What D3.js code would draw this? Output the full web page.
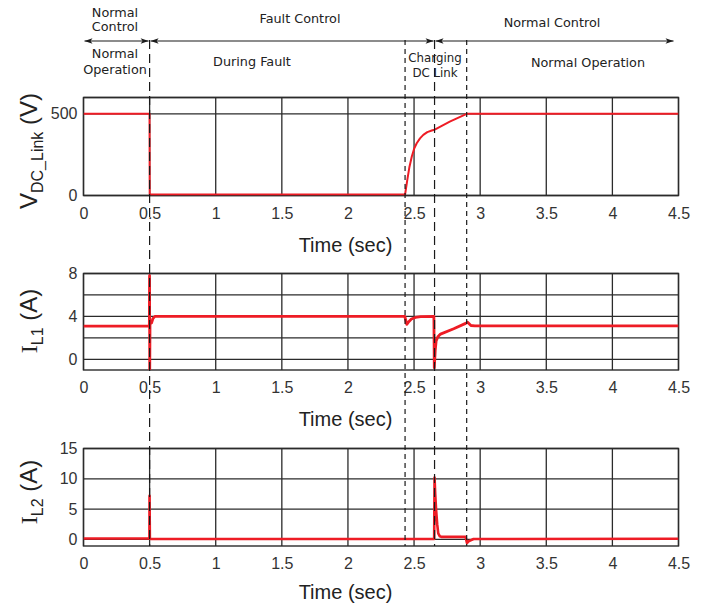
<!DOCTYPE html>
<html>
<head>
<meta charset="utf-8">
<script src="https://cdn.jsdelivr.net/npm/d3@7"></script>
<style>
  body { margin: 0; background: #fff; }
  svg { display: block; }
  .grid line { stroke: #2b2b2b; stroke-width: 1.3; }
  .tick text { font-family: "Liberation Sans", Arial, sans-serif; font-size: 16px; fill: #333; }
  .note { font-family: "DejaVu Sans", Verdana, sans-serif; fill: #222; }
</style>
</head>
<body>
<svg id="chart" width="708" height="605"></svg>
<script>
// time axis
var timeTicks = [0, 0.5, 1, 1.5, 2, 2.5, 3, 3.5, 4, 4.5];
var timeLabels = ["0", "0.5", "1", "1.5", "2", "2.5", "3", "3.5", "4", "4.5"];

// event instants (dashed lines)
var eventTimes = [0.5, 2.432, 2.655, 2.898];

// V_DC_Link (V)
var vdcT = [0, 0.4995, 0.501, 2.432, 2.449, 2.465, 2.483, 2.50, 2.52, 2.545, 2.57, 2.60, 2.634, 2.654, 2.66, 2.77, 2.898, 4.5];
var vdcV = [500, 500, 6, 6, 96, 175, 239, 285, 320, 350, 371, 388, 398, 403, 405, 452, 500, 500];

// I_L1 (A)
var il1T = [0, 0.498, 0.4995, 0.501, 0.503, 0.515, 0.525, 0.54, 2.43, 2.445, 2.46, 2.48, 2.51, 2.55, 2.65, 2.653, 2.66, 2.667, 2.68, 2.70, 2.80, 2.89, 2.905, 2.93, 2.96, 4.5];
var il1V = [3.1, 3.1, 7.8, -1, 3.3, 3.4, 3.8, 4.0, 4.0, 3.25, 3.5, 3.75, 3.9, 3.98, 4.0, -0.8, 0.8, 1.7, 2.1, 2.35, 2.85, 3.35, 3.45, 3.15, 3.12, 3.12];

// I_L2 (A)
var il2T = [0, 0.4985, 0.4995, 0.502, 0.51, 2.652, 2.655, 2.66, 2.667, 2.675, 2.683, 2.695, 2.71, 2.89, 2.9, 2.915, 2.95, 4.5];
var il2V = [0.15, 0.15, 7.2, 0.1, 0.05, 0.05, 10.2, 7.5, 4.8, 2.5, 1.0, 0.5, 0.4, 0.4, -0.6, -0.3, 0.05, 0.1];

var svg = d3.select("#chart");

var x = d3.scaleLinear().domain([0, 4.5]).range([83.5, 678.5]);

var panels = [
  { top: 97.5, bottom: 195.5, domain: [0, 600], grid: [0, 500, 600], ticks: [0, 500],
    t: vdcT, v: vdcV, width: 2, labelY: 151, main: "V", sub: "DC_Link", unit: " (V)", serif: false, timeDy: 56 },
  { top: 273.5, bottom: 370, domain: [-1, 8], grid: [0, 2, 4, 6, 8], ticks: [0, 4, 8],
    t: il1T, v: il1V, width: 2.8, labelY: 321, main: "I", sub: "L1", unit: " (A)", serif: true, timeDy: 56 },
  { top: 448.5, bottom: 546, domain: [-1.1, 15], grid: [0, 5, 10, 15], ticks: [0, 5, 10, 15],
    t: il2T, v: il2V, width: 2.6, labelY: 492, main: "I", sub: "L2", unit: " (A)", serif: true, timeDy: 53 }
];

panels.forEach(function (p, i) {
  var y = d3.scaleLinear().domain(p.domain).range([p.bottom, p.top]);
  var g = svg.append("g").attr("class", "panel");

  g.append("clipPath").attr("id", "clip" + i)
    .append("rect")
      .attr("x", x.range()[0]).attr("y", p.top)
      .attr("width", x.range()[1] - x.range()[0])
      .attr("height", p.bottom - p.top);

  var grid = g.append("g").attr("class", "grid");
  grid.selectAll("line.v").data(timeTicks).enter().append("line")
    .attr("x1", function (d) { return x(d); }).attr("x2", function (d) { return x(d); })
    .attr("y1", p.top).attr("y2", p.bottom);
  grid.selectAll("line.h").data(p.grid).enter().append("line")
    .attr("x1", x.range()[0]).attr("x2", x.range()[1])
    .attr("y1", function (d) { return y(d); }).attr("y2", function (d) { return y(d); });
  grid.append("rect")
    .attr("x", x.range()[0]).attr("y", p.top)
    .attr("width", x.range()[1] - x.range()[0]).attr("height", p.bottom - p.top)
    .attr("fill", "none").attr("stroke", "#2b2b2b").attr("stroke-width", 1.4);

  // tick labels
  g.append("g")
    .attr("transform", "translate(0," + p.bottom + ")")
    .call(d3.axisBottom(x).tickValues(timeTicks)
      .tickFormat(function (d, k) { return timeLabels[k]; })
      .tickSize(0).tickPadding(12))
    .call(function (a) { a.select(".domain").remove(); });

  g.append("g")
    .attr("transform", "translate(" + x.range()[0] + ",0)")
    .call(d3.axisLeft(y).tickValues(p.ticks).tickSize(0).tickPadding(6))
    .call(function (a) { a.select(".domain").remove(); });

  g.append("text")
    .attr("x", 345.5).attr("y", p.bottom + p.timeDy)
    .attr("text-anchor", "middle")
    .style("font-family", "Liberation Sans, Arial, sans-serif")
    .style("font-size", "20px").style("fill", "#222")
    .text("Time (sec)");

  var lab = g.append("text")
    .attr("transform", "translate(37," + p.labelY + ") rotate(-90)")
    .attr("text-anchor", "middle")
    .style("font-family", "Liberation Sans, Arial, sans-serif")
    .style("font-size", "24px").style("fill", "#222");
  lab.append("tspan")
    .style("font-family", p.serif ? "Liberation Serif, Times New Roman, serif" : null)
    .text(p.main);
  lab.append("tspan").attr("dy", 6).style("font-size", "16px").text(p.sub);
  lab.append("tspan").attr("dy", -6).text(p.unit);

  var line = d3.line()
    .x(function (d) { return x(p.t[d]); })
    .y(function (d) { return y(p.v[d]); });

  g.append("path")
    .datum(d3.range(p.t.length))
    .attr("clip-path", "url(#clip" + i + ")")
    .attr("d", line)
    .attr("fill", "none")
    .attr("stroke", "#ee1c25")
    .attr("stroke-width", p.width)
    .attr("stroke-linejoin", "round");
});

// dashed event lines
svg.selectAll("line.event").data(eventTimes).enter().append("line")
  .attr("class", "event")
  .attr("x1", function (d) { return x(d); }).attr("x2", function (d) { return x(d); })
  .attr("y1", 40).attr("y2", 546)
  .attr("stroke", "#1a1a1a").attr("stroke-width", 1.2)
  .attr("stroke-dasharray", function (d, i) { return (i === 0 || i === 2) ? "9,5" : "5,4"; });

// mode arrows on top
var defs = svg.append("defs");
defs.append("marker").attr("id", "ah")
  .attr("viewBox", "0 0 10 10").attr("refX", 10).attr("refY", 5)
  .attr("markerWidth", 10).attr("markerHeight", 8)
  .attr("markerUnits", "userSpaceOnUse")
  .attr("orient", "auto-start-reverse")
  .append("path").attr("d", "M0,1.5 L10,5 L0,8.5 L2.5,5 Z").attr("fill", "#1a1a1a");

var arrowSpans = [[0, 0.5], [0.5, 2.655], [2.655, 4.47]];
svg.selectAll("line.span").data(arrowSpans).enter().append("line")
  .attr("x1", function (d) { return x(d[0]) + 1; })
  .attr("x2", function (d) { return x(d[1]) - 1; })
  .attr("y1", 41).attr("y2", 41)
  .attr("stroke", "#1a1a1a").attr("stroke-width", 1.2)
  .attr("marker-start", "url(#ah)").attr("marker-end", "url(#ah)");

var modeLines = [["Normal", "Control"], ["Fault Control"], ["Normal Control"]];
var modeX = [115, 300, 552];
var modeY = [12.5, 18, 22];
var phaseLines = [["Normal", "Operation"], ["During Fault"], ["Charging", "DC Link"], ["Normal Operation"]];
var phaseX = [115, 252, 435, 588];
var phaseY = [53, 61, 58, 62];

function block(lines, cx, cy, size, lh) {
  var t = svg.append("text").attr("class", "note")
    .attr("text-anchor", "middle").style("font-size", size + "px");
  lines.forEach(function (s, k) {
    t.append("tspan").attr("x", cx).attr("y", cy + k * lh + size * 0.36).text(s);
  });
}
modeLines.forEach(function (l, k) { block(l, modeX[k], modeY[k], 12.8, 14); });
phaseLines.forEach(function (l, k) { block(l, phaseX[k], phaseY[k], k === 2 ? 11.8 : 12.8, k === 2 ? 14.5 : 16); });
</script>
</body>
</html>
